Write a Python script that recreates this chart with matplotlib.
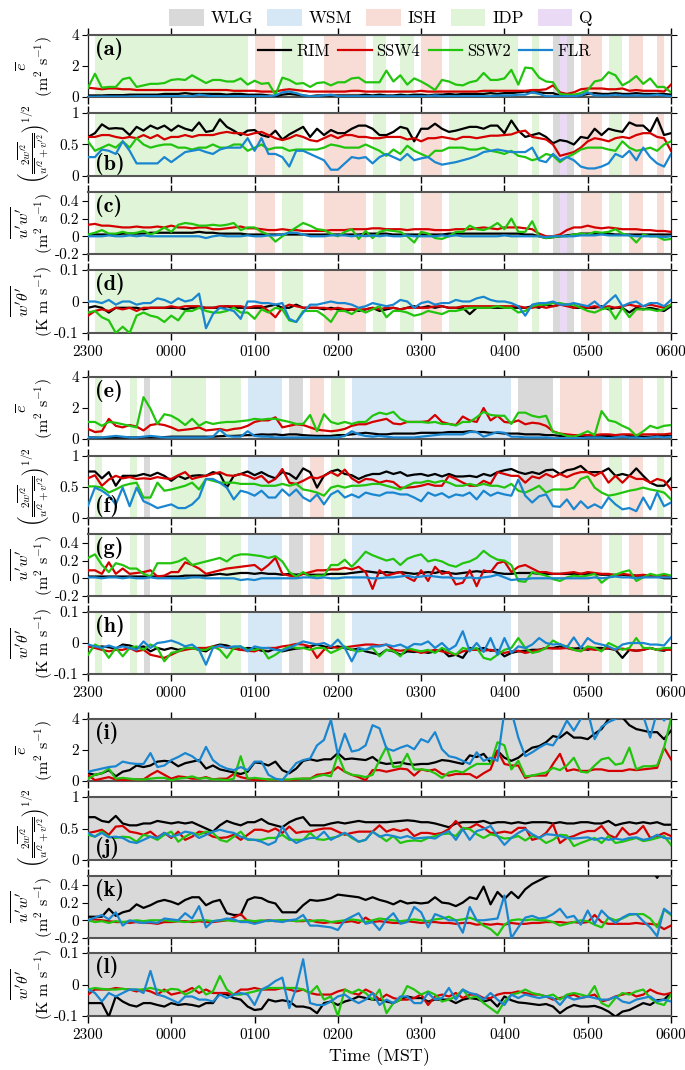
import os
import numpy as np
import matplotlib
matplotlib.use("Agg")
import matplotlib.pyplot as plt
import matplotlib.patches as mpatches
from matplotlib.font_manager import FontProperties

plt.rcParams.update({
    'font.family': 'serif', 'font.serif': ['cmr10'],
    'mathtext.fontset': 'cm', 'axes.formatter.use_mathtext': True,
    'axes.unicode_minus': False,
})

# ---------------- data ----------------
xtick_labels = ['2300', '0000', '0100', '0200', '0300', '0400', '0500', '0600']
series_names = ['RIM', 'SSW4', 'SSW2', 'FLR']
series_colors = ['#000000', '#d40000', '#22c40e', '#1a86d0']

# shading intervals (minutes after 2300)
g1_IDP = [(5, 115), (140, 155), (205, 215), (225, 235), (260, 310), (320, 325), (375, 385)]
g1_ISH = [(120, 135), (170, 200), (240, 255), (355, 370), (390, 400), (410, 415)]
g1_WLG = [(335, 340), (345, 350)]
g1_Q = [(340, 345)]
g1_WSM = []
g2_IDP = [(5, 10), (30, 35), (60, 85), (95, 110), (175, 185), (375, 385), (410, 415)]
g2_ISH = [(160, 170), (340, 370), (390, 400)]
g2_WLG = [(40, 45), (145, 155), (310, 335)]
g2_WSM = [(115, 140), (190, 305)]
g2_Q = []
g3_WLG = [(0, 420)]

a_RIM = [0.1,0.1,0.1,0.12,0.12,0.12,0.15,0.15,0.15,0.15,0.15,0.2,
 0.2,0.2,0.25,0.2,0.2,0.2,0.2,0.2,0.15,0.2,0.2,0.15,
 0.15,0.15,0.1,0.05,0.15,0.2,0.15,0.1,0.05,0.1,0.1,0.1,
 0.1,0.1,0.1,0.1,0.15,0.1,0.15,0.1,0.1,0.15,0.1,0.15,
 0.15,0.1,0.15,0.15,0.2,0.15,0.2,0.2,0.2,0.2,0.25,0.2,
 0.25,0.25,0.3,0.35,0.3,0.3,0.25,0.25,0.1,0.05,0.05,0.1,
 0.2,0.25,0.2,0.2,0.25,0.2,0.2,0.25,0.2,0.2,0.2,0.2,0.15]
a_SSW4 = [0.6,0.55,0.5,0.55,0.55,0.5,0.5,0.45,0.45,0.45,0.45,0.45,
 0.45,0.45,0.45,0.45,0.45,0.45,0.45,0.45,0.45,0.4,0.4,0.4,
 0.4,0.35,0.35,0.35,0.45,0.5,0.45,0.4,0.35,0.35,0.35,0.35,
 0.35,0.35,0.4,0.4,0.35,0.35,0.35,0.35,0.35,0.35,0.35,0.35,
 0.4,0.35,0.35,0.35,0.35,0.35,0.35,0.35,0.35,0.4,0.4,0.4,
 0.4,0.4,0.4,0.4,0.45,0.45,0.5,0.75,0.3,0.2,0.3,0.5,
 0.55,0.55,0.55,0.5,0.5,0.55,0.4,0.45,0.4,0.4,0.4,0.35,0.8]
a_SSW2 = [0.6,1.5,0.6,0.65,0.65,1.15,1.25,0.65,0.75,0.85,0.85,0.9,
 1.1,1.15,1.1,1.4,1.15,0.9,1.1,1.1,1.0,1.0,1.2,0.8,
 1.05,0.85,0.9,0.15,1.25,1.1,0.85,0.9,0.65,0.9,0.95,0.75,
 0.95,0.95,1.2,1.25,0.95,0.95,0.95,1.7,1.0,1.4,0.8,1.2,
 1.0,0.75,0.45,1.1,1.0,0.8,0.75,0.95,1.05,1.55,1.1,1.1,
 1.2,1.75,0.8,1.9,1.85,1.25,1.0,0.95,0.2,0.15,0.15,0.25,
 0.45,1.0,1.1,1.6,1.4,0.75,1.0,1.35,0.85,1.2,0.65,0.65,0.3]
a_FLR = [0.02,0.02,0.03,0.03,0.03,0.03,0.03,0.05,0.05,0.05,0.05,0.05,
 0.05,0.05,0.05,0.05,0.15,0.1,0.05,0.05,0.05,0.05,0.05,0.05,
 0.05,0.05,0.05,0.1,0.3,0.35,0.25,0.1,0.05,0.05,0.1,0.15,
 0.05,0.05,0.05,0.05,0.05,0.05,0.05,0.05,0.05,0.05,0.05,0.05,
 0.05,0.05,0.1,0.05,0.05,0.05,0.05,0.05,0.05,0.05,0.05,0.1,
 0.1,0.1,0.15,0.15,0.3,0.2,0.05,0.05,0.05,0.05,0.05,0.1,
 0.3,0.1,0.1,0.1,0.15,0.1,0.1,0.1,0.1,0.1,0.15,0.1,0.05]

b_RIM = [0.62,0.68,0.82,0.75,0.76,0.75,0.65,0.78,0.72,0.8,0.75,0.8,
 0.72,0.8,0.75,0.72,0.85,0.7,0.72,0.9,0.78,0.72,0.65,0.72,
 0.73,0.65,0.62,0.72,0.58,0.66,0.72,0.78,0.62,0.75,0.65,0.73,
 0.68,0.68,0.75,0.8,0.8,0.75,0.65,0.65,0.7,0.78,0.75,0.55,
 0.75,0.75,0.83,0.75,0.7,0.72,0.75,0.78,0.78,0.75,0.8,0.8,
 0.68,0.88,0.72,0.62,0.65,0.68,0.62,0.52,0.57,0.55,0.5,0.62,
 0.6,0.75,0.65,0.75,0.72,0.7,0.85,0.8,0.8,0.7,0.92,0.65,0.68]
b_SSW4 = [0.62,0.62,0.65,0.65,0.62,0.6,0.62,0.6,0.65,0.6,0.65,0.58,
 0.62,0.62,0.65,0.62,0.65,0.65,0.65,0.68,0.7,0.68,0.68,0.65,
 0.68,0.7,0.65,0.6,0.57,0.6,0.65,0.62,0.57,0.55,0.6,0.65,
 0.6,0.65,0.65,0.62,0.62,0.6,0.6,0.62,0.62,0.62,0.58,0.6,
 0.55,0.6,0.6,0.62,0.6,0.58,0.62,0.62,0.6,0.62,0.64,0.64,
 0.65,0.66,0.7,0.72,0.62,0.6,0.58,0.5,0.32,0.35,0.38,0.45,
 0.55,0.6,0.58,0.55,0.6,0.62,0.6,0.65,0.68,0.68,0.62,0.6,0.4]
b_SSW2 = [0.55,0.4,0.45,0.5,0.45,0.55,0.45,0.6,0.5,0.45,0.48,0.5,
 0.5,0.45,0.45,0.42,0.45,0.45,0.5,0.45,0.45,0.5,0.5,0.4,
 0.45,0.5,0.42,0.45,0.45,0.4,0.42,0.42,0.42,0.42,0.45,0.5,
 0.48,0.45,0.45,0.45,0.5,0.45,0.4,0.32,0.42,0.35,0.48,0.4,
 0.35,0.3,0.4,0.4,0.45,0.45,0.45,0.42,0.42,0.45,0.4,0.38,
 0.35,0.4,0.32,0.3,0.25,0.28,0.35,0.32,0.22,0.3,0.35,0.42,
 0.45,0.45,0.45,0.42,0.4,0.55,0.45,0.4,0.42,0.45,0.4,0.5,0.55]
b_FLR = [0.3,0.3,0.42,0.4,0.35,0.55,0.4,0.2,0.2,0.2,0.2,0.3,
 0.22,0.3,0.38,0.4,0.42,0.38,0.35,0.42,0.45,0.45,0.45,0.6,
 0.4,0.6,0.35,0.35,0.3,0.15,0.4,0.4,0.35,0.3,0.25,0.1,
 0.1,0.2,0.3,0.28,0.3,0.2,0.3,0.35,0.3,0.25,0.35,0.25,
 0.28,0.3,0.22,0.18,0.2,0.22,0.25,0.28,0.32,0.38,0.4,0.42,
 0.4,0.38,0.38,0.38,0.45,0.25,0.22,0.35,0.25,0.3,0.25,0.15,
 0.12,0.12,0.15,0.2,0.35,0.3,0.4,0.25,0.45,0.3,0.2,0.15,0.35]

c_RIM = [0.02,0.02,0.02,0.02,0.02,0.03,0.03,0.03,0.03,0.04,0.04,0.04,
 0.04,0.04,0.04,0.04,0.05,0.04,0.04,0.03,0.03,0.03,0.03,0.02,
 0.02,0.02,0.02,0.02,0.02,0.02,0.02,0.02,0.02,0.02,0.02,0.02,
 0.02,0.02,0.02,0.02,0.03,0.03,0.03,0.03,0.02,0.02,0.02,0.02,
 0.02,0.02,0.02,0.02,0.03,0.03,0.03,0.03,0.03,0.03,0.03,0.03,
 0.03,0.03,0.03,0.02,0.02,0.0,-0.02,-0.01,0.0,0.01,0.02,0.03,
 0.03,0.03,0.03,0.03,0.02,0.02,0.02,0.02,0.02,0.02,0.02,0.02,0.02]
c_SSW4 = [0.13,0.14,0.12,0.12,0.11,0.1,0.1,0.11,0.1,0.1,0.11,0.1,
 0.12,0.1,0.1,0.09,0.1,0.1,0.08,0.08,0.09,0.1,0.11,0.09,
 0.09,0.08,0.07,0.07,0.08,0.07,0.07,0.06,0.06,0.06,0.06,0.07,
 0.07,0.07,0.08,0.08,0.08,0.09,0.09,0.08,0.08,0.08,0.07,0.08,
 0.08,0.08,0.07,0.07,0.07,0.08,0.08,0.08,0.09,0.1,0.09,0.08,
 0.1,0.1,0.1,0.09,0.08,0.03,0.0,0.0,0.02,0.07,0.1,0.1,
 0.12,0.1,0.09,0.1,0.09,0.08,0.08,0.08,0.07,0.07,0.06,0.06,0.05]
c_SSW2 = [0.02,0.04,0.07,0.03,0.03,0.05,0.03,0.04,0.06,0.02,0.05,0.1,
 0.05,0.13,0.15,0.14,0.12,0.12,0.13,0.12,0.13,0.15,0.07,0.1,
 0.1,0.05,0.02,-0.06,0.0,0.05,0.1,0.15,0.12,0.08,0.07,0.03,
 0.0,0.05,0.08,-0.03,0.06,-0.02,0.05,0.07,0.06,0.05,0.0,-0.07,
 0.05,0.03,-0.02,-0.03,0.0,0.05,0.05,0.12,0.08,0.07,0.1,0.15,
 0.08,0.2,0.05,0.05,0.17,0.0,-0.02,-0.01,0.0,0.0,0.02,0.03,
 0.02,0.05,0.04,0.05,0.08,0.03,0.01,-0.07,0.02,0.0,0.0,-0.04,-0.03]
c_FLR = [0.0,0.0,0.0,0.01,0.0,0.0,0.01,0.0,0.01,0.0,0.0,0.0,
 0.0,0.0,0.0,0.0,0.0,-0.02,0.0,0.01,0.0,0.0,0.0,0.01,
 0.0,0.0,0.01,0.01,0.02,0.04,0.04,0.02,0.0,0.0,0.0,0.01,
 0.01,0.01,0.0,0.01,0.0,0.01,0.0,0.01,0.0,0.0,0.01,0.0,
 0.0,0.0,0.0,0.01,0.0,0.01,0.0,0.0,0.0,0.0,0.0,0.0,
 0.01,0.0,0.0,0.0,0.0,0.0,-0.01,0.0,0.0,0.0,0.0,0.01,
 0.01,0.01,0.02,0.01,0.01,0.01,0.01,0.0,0.0,0.0,0.0,-0.01,0.0]

d_RIM = [-0.02,-0.015,-0.02,-0.035,-0.02,-0.02,-0.02,-0.02,-0.025,-0.02,-0.02,-0.02,
 -0.02,-0.02,-0.025,-0.02,-0.02,-0.02,-0.02,-0.02,-0.015,-0.02,-0.02,-0.02,
 -0.02,-0.02,-0.015,-0.01,-0.02,-0.02,-0.01,-0.02,-0.02,-0.02,-0.025,-0.02,
 -0.025,-0.03,-0.025,-0.03,-0.025,-0.02,-0.03,-0.025,-0.02,-0.025,-0.02,-0.015,
 -0.02,-0.015,-0.02,-0.015,-0.02,-0.02,-0.02,-0.04,-0.02,-0.02,-0.02,-0.02,
 -0.02,-0.02,-0.02,-0.02,-0.015,-0.02,-0.01,-0.015,-0.01,-0.01,-0.02,-0.02,
 -0.02,-0.02,-0.015,-0.025,-0.02,-0.02,-0.035,-0.02,-0.025,-0.02,-0.025,-0.03,-0.015]
d_SSW4 = [-0.045,-0.03,-0.025,-0.03,-0.02,-0.025,-0.02,-0.03,-0.02,-0.02,-0.02,-0.02,
 -0.015,-0.02,-0.015,-0.015,-0.015,-0.02,-0.02,-0.015,-0.015,-0.015,-0.015,-0.02,
 -0.015,-0.015,-0.03,-0.05,-0.02,-0.01,-0.015,-0.02,-0.02,-0.02,-0.02,-0.025,
 -0.02,-0.025,-0.025,-0.025,-0.025,-0.02,-0.025,-0.02,-0.02,-0.025,-0.02,-0.02,
 -0.02,-0.02,-0.015,-0.015,-0.02,-0.02,-0.015,-0.015,-0.015,-0.015,-0.015,-0.015,
 -0.015,-0.015,-0.015,-0.02,-0.02,-0.015,-0.02,-0.015,-0.01,-0.015,-0.02,-0.015,
 -0.02,-0.015,-0.02,-0.015,-0.02,-0.015,-0.01,-0.015,-0.015,-0.01,-0.015,-0.02,-0.01]
d_SSW2 = [-0.035,-0.03,-0.05,-0.06,-0.1,-0.08,-0.1,-0.045,-0.035,-0.045,-0.05,-0.065,
 -0.045,-0.06,-0.03,-0.03,-0.02,-0.03,-0.035,-0.035,-0.03,-0.02,-0.035,-0.035,
 -0.055,-0.025,-0.035,-0.02,-0.025,-0.06,-0.065,-0.03,-0.03,-0.03,-0.045,-0.065,
 -0.03,-0.03,-0.04,-0.025,-0.035,-0.025,-0.015,-0.05,-0.03,-0.03,-0.035,-0.045,
 -0.04,-0.03,-0.035,-0.04,-0.03,-0.03,-0.025,-0.02,-0.02,-0.02,-0.02,-0.015,
 -0.02,-0.02,-0.035,-0.03,-0.015,-0.01,-0.01,-0.005,-0.005,-0.01,-0.01,-0.02,
 -0.03,-0.035,-0.025,-0.02,-0.055,-0.02,-0.05,-0.025,-0.025,-0.025,-0.03,-0.025,-0.01]
d_FLR = [0.0,0.0,-0.005,0.005,-0.01,0.0,0.0,-0.01,-0.005,-0.005,0.01,0.005,
 -0.005,0.01,0.0,0.005,0.025,-0.085,-0.04,-0.02,-0.025,-0.03,-0.055,0.0,
 0.0,-0.005,-0.005,-0.01,-0.005,-0.055,-0.065,-0.035,-0.01,-0.01,-0.005,0.0,
 -0.005,-0.005,-0.01,-0.02,-0.015,-0.005,-0.01,-0.015,-0.01,0.005,0.0,-0.02,
 -0.005,0.0,-0.01,-0.005,-0.005,0.005,0.0,0.0,0.01,0.015,0.005,0.0,
 0.0,-0.005,-0.015,-0.045,-0.01,-0.005,-0.005,0.0,-0.01,-0.01,-0.005,-0.01,
 -0.015,0.0,-0.02,0.0,0.02,-0.015,-0.005,0.0,-0.015,-0.005,-0.005,-0.015,0.005]

e_RIM = [0.1,0.1,0.08,0.1,0.1,0.1,0.1,0.1,0.12,0.12,0.12,0.12,
 0.15,0.15,0.15,0.15,0.15,0.15,0.15,0.18,0.2,0.2,0.22,0.25,
 0.25,0.3,0.28,0.3,0.25,0.3,0.3,0.25,0.22,0.2,0.2,0.2,
 0.25,0.25,0.3,0.35,0.4,0.35,0.3,0.3,0.35,0.35,0.35,0.35,
 0.4,0.4,0.4,0.4,0.45,0.45,0.45,0.5,0.45,0.45,0.4,0.4,
 0.35,0.35,0.35,0.3,0.3,0.3,0.25,0.25,0.2,0.2,0.2,0.2,
 0.2,0.2,0.2,0.2,0.15,0.15,0.2,0.2,0.15,0.15,0.2,0.2,0.2]
e_SSW4 = [0.65,0.45,0.5,1.3,0.85,0.75,0.9,0.8,0.55,0.9,0.97,0.9,
 0.75,0.55,0.6,0.65,0.75,0.55,0.6,0.65,0.55,0.65,0.7,0.85,
 1.1,1.2,1.2,1.4,0.75,0.85,0.95,0.9,0.75,0.6,0.55,0.5,
 0.55,0.65,0.85,0.95,0.95,1.1,1.2,1.3,1.0,0.95,1.1,1.1,
 1.1,1.15,1.55,1.1,0.97,0.9,1.45,1.2,1.1,2.0,1.2,1.5,
 1.1,1.05,1.2,0.95,1.05,1.0,0.85,0.5,0.35,0.3,0.25,0.25,
 0.25,0.25,0.3,0.3,0.25,0.3,0.3,0.25,0.3,0.3,0.3,0.3,0.35]
e_SSW2 = [1.1,1.1,0.85,1.1,1.05,0.95,0.85,0.75,2.7,1.95,0.97,1.6,
 1.5,1.25,0.9,1.3,0.85,1.1,0.97,1.05,1.1,1.1,1.15,1.2,
 1.3,1.25,1.3,1.3,1.2,1.1,0.97,0.97,1.55,0.5,1.6,1.1,
 0.97,1.1,0.97,1.1,1.1,1.5,1.7,1.6,1.75,1.3,1.1,1.1,
 1.1,1.05,1.1,0.97,0.97,0.87,1.1,1.1,1.4,1.75,1.55,1.5,
 1.5,0.97,1.7,1.7,1.5,1.4,1.5,0.45,0.35,0.2,0.15,0.3,
 0.5,0.25,1.8,1.2,1.1,0.85,0.65,0.2,0.5,0.85,0.7,0.85,0.9]
e_FLR = [0.1,0.1,0.1,0.15,0.2,0.15,0.1,0.1,0.15,0.2,0.15,0.1,
 0.1,0.1,0.1,0.1,0.1,0.1,0.15,0.6,0.2,0.15,0.15,0.5,
 0.2,0.15,0.15,0.1,0.1,0.1,0.1,0.1,0.1,0.1,0.1,0.1,
 0.1,0.2,0.5,0.3,0.2,0.15,0.2,0.15,0.1,0.1,0.1,0.1,
 0.15,0.2,0.25,0.3,0.3,0.3,0.3,0.45,0.45,0.15,0.3,0.45,
 0.4,0.15,0.15,0.1,0.1,0.1,0.1,0.05,0.05,0.05,0.05,0.05,
 0.1,0.1,0.1,0.05,0.1,0.15,0.1,0.1,0.05,0.1,0.15,0.1,0.15]

f_RIM = [0.75,0.75,0.64,0.74,0.52,0.68,0.68,0.68,0.71,0.68,0.73,0.68,
 0.6,0.68,0.63,0.68,0.69,0.68,0.74,0.71,0.49,0.68,0.71,0.75,
 0.69,0.74,0.68,0.64,0.74,0.71,0.63,0.8,0.74,0.49,0.68,0.75,
 0.78,0.71,0.69,0.63,0.68,0.71,0.71,0.75,0.71,0.74,0.68,0.7,
 0.71,0.68,0.71,0.67,0.71,0.67,0.67,0.68,0.66,0.71,0.68,0.74,
 0.77,0.79,0.74,0.71,0.74,0.71,0.77,0.78,0.71,0.77,0.79,0.84,
 0.74,0.74,0.74,0.8,0.68,0.71,0.68,0.8,0.68,0.57,0.52,0.52,0.64]
f_SSW4 = [0.64,0.69,0.52,0.62,0.68,0.64,0.66,0.63,0.64,0.63,0.66,0.64,
 0.63,0.69,0.74,0.63,0.66,0.68,0.71,0.74,0.69,0.68,0.71,0.68,
 0.63,0.68,0.57,0.63,0.79,0.57,0.55,0.6,0.66,0.64,0.68,0.74,
 0.68,0.78,0.64,0.57,0.63,0.62,0.57,0.6,0.58,0.49,0.49,0.5,
 0.52,0.55,0.52,0.52,0.68,0.63,0.57,0.52,0.52,0.6,0.55,0.74,
 0.71,0.68,0.68,0.57,0.67,0.64,0.71,0.66,0.71,0.66,0.71,0.74,
 0.74,0.68,0.74,0.57,0.68,0.57,0.68,0.63,0.63,0.57,0.63,0.6,0.46]
f_SSW2 = [0.51,0.51,0.49,0.41,0.46,0.52,0.55,0.57,0.33,0.33,0.57,0.44,
 0.46,0.49,0.52,0.57,0.46,0.63,0.6,0.57,0.57,0.57,0.55,0.55,
 0.55,0.52,0.52,0.52,0.55,0.52,0.55,0.46,0.44,0.41,0.36,0.49,
 0.52,0.49,0.52,0.52,0.53,0.55,0.55,0.52,0.49,0.46,0.52,0.57,
 0.57,0.6,0.57,0.6,0.57,0.52,0.52,0.55,0.52,0.55,0.52,0.52,
 0.49,0.55,0.44,0.41,0.46,0.52,0.41,0.46,0.46,0.46,0.49,0.63,
 0.67,0.49,0.41,0.36,0.38,0.41,0.44,0.46,0.49,0.46,0.44,0.41,0.3]
f_FLR = [0.2,0.49,0.44,0.36,0.22,0.49,0.19,0.49,0.27,0.22,0.16,0.19,
 0.22,0.16,0.16,0.22,0.33,0.63,0.63,0.57,0.49,0.3,0.44,0.41,
 0.36,0.44,0.33,0.33,0.46,0.36,0.46,0.33,0.27,0.38,0.22,0.38,
 0.44,0.33,0.38,0.33,0.41,0.38,0.36,0.41,0.41,0.38,0.38,0.33,
 0.27,0.41,0.36,0.4,0.33,0.38,0.36,0.41,0.3,0.44,0.36,0.41,
 0.38,0.36,0.62,0.36,0.25,0.35,0.38,0.19,0.18,0.3,0.14,0.27,
 0.16,0.22,0.16,0.33,0.22,0.14,0.16,0.11,0.33,0.14,0.41,0.19,0.25]

g_RIM = [0.02,0.02,0.02,0.02,0.02,0.02,0.02,0.02,0.02,0.02,0.02,0.02,
 0.02,0.02,0.03,0.03,0.03,0.03,0.04,0.05,0.04,0.05,0.06,0.06,
 0.05,0.06,0.05,0.05,0.04,0.05,0.04,0.05,0.04,0.04,0.04,0.05,
 0.05,0.05,0.06,0.07,0.08,0.07,0.06,0.07,0.06,0.07,0.06,0.05,
 0.06,0.07,0.06,0.08,0.06,0.05,0.06,0.07,0.08,0.07,0.08,0.06,
 0.05,0.05,0.06,0.06,0.06,0.05,0.05,0.05,0.05,0.05,0.05,0.05,
 0.05,0.05,0.04,0.04,0.04,0.04,0.03,0.03,0.03,0.03,0.02,0.0,0.0]
g_SSW4 = [0.09,0.09,0.05,0.18,0.05,0.11,0.05,0.06,0.07,0.09,0.02,0.03,
 0.07,0.07,0.18,0.15,0.11,0.05,0.07,0.09,0.11,0.12,0.13,0.14,
 0.15,0.09,0.15,0.23,0.05,0.03,0.02,0.05,0.07,0.09,0.09,0.1,
 0.1,0.12,0.1,0.13,0.07,-0.12,0.09,0.03,0.05,0.07,0.01,-0.03,
 0.09,-0.03,0.13,0.05,0.07,-0.07,-0.05,0.09,-0.09,0.09,0.07,0.17,
 0.19,0.07,0.13,0.15,0.11,0.07,0.07,0.05,0.05,0.06,0.07,0.05,
 0.07,0.06,0.05,0.05,0.03,0.05,0.04,0.03,0.04,0.03,0.02,0.03,0.02]
g_SSW2 = [0.23,0.27,0.15,0.07,0.17,0.15,0.11,0.11,0.05,0.02,0.17,0.17,
 0.17,0.19,0.23,0.15,0.17,0.19,0.21,0.23,0.19,0.25,0.27,0.27,
 0.26,0.25,0.23,0.25,0.19,0.07,0.02,0.07,0.02,0.03,0.03,0.15,
 0.15,0.21,0.13,0.21,0.3,0.26,0.23,0.2,0.22,0.15,0.22,0.25,
 0.27,0.19,0.21,0.19,0.15,0.13,0.17,0.19,0.23,0.31,0.25,0.21,
 0.2,0.15,-0.03,-0.04,0.07,0.05,0.03,-0.01,-0.03,0.01,0.03,0.02,
 0.03,0.05,-0.05,0.01,0.04,0.07,0.09,-0.03,0.01,0.05,0.03,0.05,0.03]
g_FLR = [0.01,0.01,0.0,0.01,0.01,0.0,0.01,0.0,0.0,0.01,0.0,0.0,
 0.0,0.0,0.0,0.01,0.01,0.0,0.0,0.0,0.0,0.0,-0.02,-0.01,
 -0.02,0.0,0.0,0.0,0.0,0.0,0.0,0.01,0.01,0.0,0.01,0.0,
 0.0,0.01,0.01,0.01,0.01,0.0,0.0,0.01,0.01,0.02,0.03,0.01,
 0.02,0.03,0.02,0.01,0.01,0.0,0.0,0.01,0.0,0.01,0.02,0.04,
 0.01,-0.02,-0.01,-0.01,0.0,0.0,0.0,0.0,0.0,0.0,0.0,0.0,
 0.0,0.01,0.0,0.01,0.02,0.01,0.01,0.0,0.01,0.01,0.01,0.01,0.01]

h_RIM = [-0.005,-0.016,-0.011,-0.014,-0.018,-0.005,-0.008,-0.016,-0.011,-0.027,-0.016,-0.022,
 -0.016,-0.022,-0.018,-0.016,-0.022,-0.027,-0.011,-0.005,-0.008,-0.016,-0.022,-0.016,
 -0.018,-0.025,-0.027,-0.018,-0.027,-0.022,-0.018,-0.016,-0.011,-0.005,-0.011,-0.016,
 -0.011,-0.016,-0.022,-0.018,-0.027,-0.032,-0.038,-0.022,-0.027,-0.038,-0.027,-0.029,
 -0.027,-0.032,-0.027,-0.022,-0.043,-0.038,-0.048,-0.016,-0.022,-0.016,-0.025,-0.022,
 -0.043,-0.032,-0.027,-0.025,-0.022,-0.022,-0.016,-0.016,-0.011,-0.016,-0.018,-0.016,
 -0.022,-0.016,-0.016,-0.018,-0.022,-0.048,-0.022,-0.025,-0.022,-0.016,-0.022,-0.025,-0.016]
h_SSW4 = [-0.011,-0.016,-0.022,-0.027,-0.022,-0.022,-0.016,-0.027,-0.022,-0.038,-0.043,-0.048,
 -0.038,-0.027,-0.022,-0.018,-0.016,-0.016,-0.011,-0.011,-0.014,-0.018,-0.022,-0.025,
 -0.027,-0.018,-0.016,-0.016,-0.011,-0.008,-0.003,-0.005,-0.011,-0.048,-0.022,-0.011,
 -0.016,-0.014,-0.011,-0.008,-0.005,-0.005,-0.008,-0.005,-0.022,-0.025,-0.022,-0.025,
 -0.032,-0.027,-0.022,-0.027,-0.032,-0.038,-0.027,-0.022,-0.022,-0.025,-0.022,-0.027,
 -0.032,-0.027,-0.025,-0.032,-0.027,-0.022,-0.016,-0.018,-0.018,-0.016,-0.022,-0.025,
 -0.018,-0.022,-0.022,-0.016,-0.022,-0.018,-0.022,-0.025,-0.022,-0.016,-0.022,-0.022,-0.022]
h_SSW2 = [-0.038,-0.005,-0.016,-0.048,-0.016,-0.043,-0.016,-0.011,-0.022,-0.005,-0.016,-0.059,
 -0.032,-0.027,-0.016,-0.016,-0.022,-0.022,-0.011,-0.022,-0.048,-0.016,-0.011,-0.022,
 -0.022,-0.016,-0.05,-0.038,-0.022,-0.011,-0.016,-0.016,-0.022,-0.016,-0.016,-0.032,
 -0.022,-0.011,-0.022,-0.027,-0.022,-0.016,-0.043,-0.022,-0.025,-0.043,-0.016,-0.022,
 -0.027,-0.022,-0.032,-0.016,-0.027,-0.038,-0.016,-0.022,-0.016,-0.048,-0.054,-0.038,
 -0.022,-0.016,0.016,-0.016,-0.032,-0.027,-0.016,0.008,-0.005,-0.011,-0.022,-0.027,
 -0.011,-0.016,-0.027,0.0,-0.011,-0.022,-0.016,0.016,-0.016,-0.016,-0.022,-0.016,-0.016]
h_FLR = [-0.005,-0.011,-0.016,-0.008,-0.016,-0.011,-0.016,-0.022,0.005,-0.016,0.0,0.003,
 0.008,0.0,-0.011,-0.005,-0.022,-0.07,-0.016,-0.008,-0.016,-0.011,-0.011,-0.027,
 -0.011,-0.016,-0.016,-0.022,-0.025,-0.016,-0.005,0.005,0.0,-0.005,0.0,-0.011,
 0.011,-0.016,-0.059,-0.016,-0.022,-0.011,-0.011,-0.005,-0.011,-0.005,-0.016,-0.003,
 -0.005,0.005,-0.016,0.0,-0.022,-0.008,0.038,-0.027,0.0,-0.029,0.016,-0.038,
 0.016,-0.032,-0.011,-0.016,-0.005,0.016,0.0,-0.005,-0.003,-0.014,0.018,-0.016,
 0.016,0.0,-0.005,-0.011,-0.022,-0.005,0.0,0.0,0.0,-0.005,-0.005,-0.008,0.018]

i_RIM = [0.5,0.4,0.5,0.7,0.3,0.6,0.7,1.0,0.9,1.0,1.25,1.3,
 1.25,0.95,1.15,1.25,1.35,0.8,1.0,0.75,0.65,0.55,0.45,0.6,
 1.2,1.15,1.0,1.25,0.7,0.5,0.8,1.3,1.4,1.3,1.4,1.4,
 1.8,1.4,1.45,1.4,1.35,1.55,1.2,1.1,1.15,1.2,1.1,1.05,
 1.1,1.1,1.2,1.35,1.3,1.2,1.1,1.65,1.55,1.75,1.2,1.95,
 1.5,1.3,1.5,1.85,2.15,2.25,2.5,2.9,2.8,3.15,2.8,2.8,
 2.7,3.05,3.35,4.0,4.3,4.1,3.6,3.35,3.25,3.15,3.15,2.7,3.25]
i_SSW4 = [0.4,0.05,0.15,0.25,0.1,0.05,0.1,0.1,0.1,0.4,0.65,0.4,
 0.15,0.3,0.25,0.15,0.15,0.25,0.1,0.15,0.15,0.45,0.25,0.15,
 0.05,0.05,0.1,0.05,0.05,0.05,0.1,0.15,0.15,0.4,0.45,0.55,
 0.9,0.6,0.4,0.25,0.05,0.7,0.7,0.6,0.7,0.8,0.75,0.35,
 0.75,0.65,0.75,0.45,0.35,0.45,0.45,0.45,0.2,0.5,0.75,1.95,
 1.1,1.0,1.0,0.2,0.35,0.35,0.35,1.1,1.75,0.65,0.75,0.65,
 0.65,0.75,0.75,0.65,0.65,0.65,0.75,0.7,0.75,0.8,0.85,2.15,1.4]
i_SSW2 = [0.15,0.4,0.5,0.8,0.15,0.2,0.15,0.1,0.1,0.15,0.2,0.2,
 0.05,0.15,0.2,0.3,0.15,0.2,0.1,0.1,0.05,0.15,1.6,0.15,
 0.2,0.15,0.1,0.1,0.1,0.1,0.15,0.15,0.15,0.3,0.4,0.3,
 1.7,0.6,0.4,0.35,0.25,0.4,1.35,2.2,0.9,0.95,1.75,0.75,
 0.75,0.7,0.5,0.2,0.55,0.65,0.55,0.85,1.1,1.1,1.1,2.5,
 2.3,0.75,1.3,0.3,0.35,0.45,0.55,0.85,0.7,1.0,1.5,0.6,
 0.55,1.0,1.4,1.5,1.05,1.15,2.15,0.75,0.95,0.95,1.0,2.15,4.0]
i_FLR = [0.6,0.7,0.8,0.9,0.95,1.25,1.15,1.1,1.1,1.8,0.9,1.0,
 1.35,1.55,1.8,1.6,1.25,2.2,1.35,1.0,0.8,0.7,0.9,0.7,
 1.25,1.25,0.4,0.15,0.05,0.6,1.15,1.35,1.45,2.3,2.65,3.95,
 1.7,3.05,1.9,2.0,2.3,3.6,3.4,2.1,1.95,2.15,2.3,2.05,
 2.7,2.5,3.15,2.05,1.6,1.5,1.3,1.1,1.85,1.3,1.5,1.3,
 4.5,4.5,2.8,1.6,1.85,2.15,2.4,2.3,3.0,3.9,3.25,4.0,
 4.5,2.7,3.5,3.8,4.0,4.5,4.6,4.5,4.2,2.8,4.5,3.9,4.5]

j_RIM = [0.68,0.68,0.62,0.6,0.7,0.58,0.55,0.55,0.58,0.58,0.62,0.6,
 0.58,0.6,0.58,0.6,0.55,0.5,0.45,0.55,0.62,0.58,0.55,0.6,
 0.6,0.65,0.58,0.55,0.52,0.6,0.65,0.68,0.55,0.55,0.55,0.58,
 0.6,0.58,0.6,0.62,0.6,0.6,0.6,0.6,0.61,0.62,0.63,0.62,
 0.6,0.6,0.58,0.55,0.52,0.58,0.6,0.6,0.6,0.62,0.58,0.6,
 0.6,0.58,0.6,0.58,0.6,0.6,0.6,0.58,0.6,0.58,0.58,0.6,
 0.6,0.58,0.58,0.62,0.55,0.58,0.6,0.58,0.6,0.58,0.6,0.56,0.56]
j_SSW4 = [0.43,0.45,0.48,0.4,0.53,0.54,0.45,0.43,0.4,0.45,0.36,0.43,
 0.35,0.45,0.32,0.37,0.45,0.43,0.37,0.35,0.36,0.4,0.32,0.4,
 0.48,0.48,0.45,0.5,0.43,0.53,0.43,0.45,0.45,0.48,0.5,0.5,
 0.45,0.4,0.43,0.45,0.45,0.45,0.55,0.45,0.49,0.46,0.49,0.38,
 0.43,0.43,0.41,0.43,0.49,0.62,0.49,0.51,0.57,0.51,0.43,0.43,
 0.45,0.43,0.51,0.51,0.32,0.35,0.43,0.57,0.27,0.35,0.38,0.43,
 0.46,0.46,0.54,0.4,0.35,0.51,0.4,0.43,0.54,0.35,0.38,0.43,0.38]
j_SSW2 = [0.4,0.37,0.45,0.37,0.35,0.37,0.36,0.29,0.4,0.37,0.32,0.4,
 0.45,0.29,0.37,0.43,0.4,0.45,0.43,0.32,0.29,0.37,0.45,0.32,
 0.32,0.32,0.35,0.35,0.4,0.32,0.32,0.32,0.43,0.33,0.32,0.35,
 0.37,0.43,0.35,0.29,0.32,0.45,0.38,0.3,0.38,0.27,0.3,0.31,
 0.3,0.35,0.38,0.41,0.42,0.38,0.51,0.49,0.41,0.35,0.41,0.38,
 0.34,0.35,0.38,0.31,0.38,0.35,0.27,0.32,0.4,0.39,0.22,0.27,
 0.31,0.35,0.27,0.38,0.27,0.29,0.32,0.35,0.3,0.32,0.35,0.38,0.24]
j_FLR = [0.43,0.37,0.43,0.36,0.37,0.35,0.29,0.27,0.32,0.37,0.35,0.43,
 0.37,0.4,0.45,0.43,0.35,0.4,0.45,0.48,0.45,0.43,0.37,0.33,
 0.32,0.29,0.24,0.29,0.53,0.35,0.27,0.32,0.35,0.35,0.45,0.32,
 0.38,0.43,0.37,0.29,0.32,0.45,0.37,0.4,0.38,0.35,0.38,0.34,
 0.35,0.36,0.34,0.41,0.46,0.32,0.49,0.32,0.46,0.49,0.54,0.38,
 0.24,0.35,0.43,0.49,0.41,0.35,0.41,0.4,0.38,0.35,0.34,0.35,
 0.36,0.32,0.35,0.32,0.34,0.32,0.35,0.36,0.32,0.34,0.4,0.35,0.34]

k_RIM = [0.04,0.04,0.04,0.13,0.05,0.09,0.11,0.18,0.14,0.17,0.21,0.23,
 0.21,0.18,0.23,0.26,0.26,0.17,0.21,0.23,0.08,0.06,0.06,0.23,
 0.26,0.25,0.21,0.19,0.09,0.09,0.09,0.17,0.23,0.22,0.23,0.25,
 0.29,0.28,0.27,0.26,0.23,0.26,0.23,0.21,0.18,0.22,0.19,0.2,
 0.19,0.2,0.26,0.2,0.19,0.16,0.2,0.26,0.24,0.38,0.18,0.32,
 0.24,0.32,0.25,0.35,0.41,0.45,0.49,0.52,0.56,0.6,0.65,0.7,
 0.75,0.8,0.85,0.9,0.95,1.0,0.9,0.8,0.7,0.6,0.48,0.6,0.7]
k_SSW4 = [0.0,0.01,0.0,-0.01,-0.02,-0.02,-0.03,-0.02,-0.03,-0.03,-0.04,-0.02,
 -0.02,-0.01,-0.01,-0.02,-0.01,-0.02,-0.02,-0.01,0.0,0.03,0.07,-0.01,
 -0.02,-0.01,0.0,-0.01,0.0,0.0,-0.01,-0.01,0.0,-0.02,-0.03,-0.02,
 -0.03,-0.02,-0.01,-0.03,0.03,-0.02,-0.01,-0.02,-0.03,-0.03,-0.01,-0.02,
 -0.03,-0.02,-0.02,-0.03,-0.03,-0.04,-0.03,-0.03,-0.05,-0.04,-0.05,-0.04,
 -0.05,-0.03,-0.04,-0.04,-0.03,-0.03,-0.02,-0.02,-0.02,-0.03,-0.02,-0.03,
 -0.02,0.06,-0.02,-0.04,-0.04,-0.04,-0.04,-0.03,-0.04,-0.04,-0.05,-0.1,-0.06]
k_SSW2 = [0.0,-0.02,-0.01,-0.03,-0.01,-0.02,-0.01,0.0,-0.01,0.0,0.0,0.0,
 -0.01,-0.01,-0.02,-0.01,0.0,0.0,-0.01,0.0,0.0,-0.01,-0.01,0.0,
 -0.01,0.0,-0.01,0.0,0.0,0.0,-0.01,0.0,-0.01,0.0,0.0,-0.02,
 -0.01,0.0,0.01,0.0,-0.02,0.0,0.02,0.01,0.0,-0.01,0.0,0.01,
 0.0,-0.01,0.01,0.02,0.04,0.0,0.01,0.03,0.0,-0.06,-0.1,-0.17,
 -0.05,0.0,0.01,0.0,0.01,0.0,0.0,-0.02,-0.06,-0.04,-0.02,0.0,
 -0.01,-0.05,-0.08,0.03,0.0,0.02,0.06,0.07,0.07,0.02,-0.08,0.12,0.06]
k_FLR = [0.0,0.03,0.06,0.01,0.09,-0.06,0.0,-0.02,-0.03,-0.02,-0.03,0.02,
 0.01,0.0,0.08,0.02,0.16,-0.08,-0.01,0.0,0.02,0.01,-0.02,-0.02,
 -0.04,-0.02,0.0,-0.01,-0.02,0.0,0.01,0.06,-0.06,-0.06,-0.07,-0.08,
 -0.11,0.0,0.04,0.08,-0.04,-0.02,-0.11,0.01,0.08,-0.04,-0.02,0.15,
 0.09,-0.08,0.07,0.04,0.0,0.0,-0.14,0.15,0.0,0.0,0.01,0.02,
 0.28,-0.2,-0.08,0.03,0.05,0.02,0.03,0.07,0.13,0.03,0.05,-0.05,
 0.11,-0.04,0.11,0.03,-0.03,0.03,0.07,0.07,-0.01,-0.08,-0.18,0.13,0.07]

l_RIM = [-0.059,-0.059,-0.059,-0.102,-0.038,-0.054,-0.065,-0.07,-0.059,-0.059,-0.065,-0.07,
 -0.059,-0.065,-0.062,-0.065,-0.07,-0.059,-0.059,-0.027,-0.032,-0.043,-0.048,-0.07,
 -0.081,-0.078,-0.048,-0.054,-0.05,-0.054,-0.07,-0.07,-0.075,-0.091,-0.059,-0.054,
 -0.065,-0.054,-0.048,-0.038,-0.043,-0.048,-0.048,-0.054,-0.059,-0.048,-0.038,-0.043,
 -0.043,-0.054,-0.048,-0.048,-0.048,-0.059,-0.048,-0.043,-0.046,-0.054,-0.048,-0.07,
 -0.038,-0.05,-0.057,-0.059,-0.062,-0.065,-0.062,-0.07,-0.091,-0.075,-0.065,-0.07,
 -0.07,-0.068,-0.075,-0.086,-0.102,-0.086,-0.081,-0.07,-0.059,-0.065,-0.05,-0.048,-0.027]
l_SSW4 = [-0.032,-0.016,-0.016,-0.016,-0.011,-0.014,-0.016,-0.022,-0.016,-0.022,-0.032,-0.016,
 -0.032,-0.027,-0.022,-0.011,-0.027,-0.016,-0.027,-0.027,-0.027,-0.032,-0.016,-0.016,
 -0.011,-0.016,-0.016,-0.016,-0.011,-0.016,-0.022,-0.016,-0.027,-0.032,-0.032,-0.032,
 -0.022,-0.016,-0.027,-0.032,-0.016,-0.027,-0.048,-0.032,-0.043,-0.048,-0.048,-0.043,
 -0.032,-0.065,-0.038,-0.032,-0.038,-0.027,-0.043,-0.032,-0.032,-0.043,-0.043,-0.032,
 -0.027,-0.027,-0.022,-0.027,-0.032,-0.032,-0.038,-0.048,-0.043,-0.038,-0.032,-0.043,
 -0.038,-0.032,-0.054,-0.048,-0.038,-0.032,-0.027,-0.038,-0.032,-0.016,-0.027,-0.032,-0.027]
l_SSW2 = [-0.016,-0.011,-0.014,-0.016,-0.016,-0.014,-0.016,-0.016,-0.016,-0.011,-0.016,-0.022,
 -0.014,-0.016,-0.032,-0.022,-0.005,-0.032,-0.022,0.027,-0.016,-0.032,-0.032,-0.027,
 -0.022,-0.016,-0.011,-0.011,-0.011,-0.011,-0.011,-0.016,-0.027,-0.005,-0.048,-0.038,
 -0.1,-0.016,-0.027,-0.016,-0.027,-0.048,-0.016,-0.091,-0.059,-0.048,-0.005,-0.016,
 -0.032,-0.022,-0.032,-0.054,-0.048,-0.038,-0.016,-0.043,-0.038,-0.059,-0.075,-0.091,
 -0.054,-0.032,-0.027,-0.016,-0.027,-0.032,-0.038,-0.032,-0.048,-0.032,-0.027,-0.032,
 -0.038,-0.005,-0.059,-0.07,-0.043,-0.027,-0.032,-0.022,-0.016,-0.043,-0.059,-0.065,-0.032]
l_FLR = [-0.016,-0.027,-0.054,-0.027,-0.038,-0.027,-0.016,-0.016,-0.027,0.043,-0.032,-0.038,
 -0.048,-0.059,-0.038,-0.038,-0.048,-0.048,-0.054,-0.032,-0.043,-0.032,-0.027,-0.032,
 -0.065,-0.016,-0.005,0.011,0.022,-0.075,-0.011,0.08,-0.059,-0.065,-0.065,-0.054,
 -0.038,-0.032,-0.048,-0.059,-0.048,-0.027,-0.065,-0.048,-0.059,-0.038,-0.038,-0.059,
 -0.059,-0.027,-0.048,-0.043,-0.011,-0.048,-0.016,-0.027,-0.032,-0.048,-0.027,-0.048,
 -0.065,-0.032,-0.043,-0.032,-0.038,-0.043,-0.038,-0.043,-0.065,-0.038,-0.048,-0.043,
 -0.038,-0.043,-0.048,-0.048,-0.038,-0.054,-0.059,-0.048,-0.043,-0.038,-0.054,-0.048,-0.054]

# ---------------- layout ----------------
W, H = 685, 1070
fig = plt.figure(figsize=(W / 100, H / 100), dpi=100)

panel_px = [(35, 97), (113, 176), (192, 254), (270, 333),
            (377, 439), (456, 518), (534, 596), (612, 674),
            (719, 781), (797, 860), (876, 938), (953, 1016)]
left_px, right_px = 88, 671
axw_px = right_px - left_px

panel_data = [
    (a_RIM, a_SSW4, a_SSW2, a_FLR), (b_RIM, b_SSW4, b_SSW2, b_FLR),
    (c_RIM, c_SSW4, c_SSW2, c_FLR), (d_RIM, d_SSW4, d_SSW2, d_FLR),
    (e_RIM, e_SSW4, e_SSW2, e_FLR), (f_RIM, f_SSW4, f_SSW2, f_FLR),
    (g_RIM, g_SSW4, g_SSW2, g_FLR), (h_RIM, h_SSW4, h_SSW2, h_FLR),
    (i_RIM, i_SSW4, i_SSW2, i_FLR), (j_RIM, j_SSW4, j_SSW2, j_FLR),
    (k_RIM, k_SSW4, k_SSW2, k_FLR), (l_RIM, l_SSW4, l_SSW2, l_FLR),
]
letters = 'abcdefghijkl'

shade_colors = {'WLG': '#d9d9d9', 'WSM': '#d6e8f6', 'ISH': '#f7ddd5',
                'IDP': '#e0f5d8', 'Q': '#eadaf6'}
groups = [
    {'WLG': g1_WLG, 'WSM': g1_WSM, 'ISH': g1_ISH, 'IDP': g1_IDP, 'Q': g1_Q},
    {'WLG': g2_WLG, 'WSM': g2_WSM, 'ISH': g2_ISH, 'IDP': g2_IDP, 'Q': g2_Q},
    {'WLG': g3_WLG},
]

# y-label pieces: (text, x position in px from figure left)
ylab_e = [(r'$\overline{e}$', 23), (r'(m$^2$ s$^{-1}$)', 44)]
ylab_r = [(r'$\left(\frac{2\overline{w^{\prime 2}}}{\overline{u^{\prime 2}}+\overline{v^{\prime 2}}}\right)^{1/2}$', 34)]
ylab_uw = [(r'$\overline{u^\prime w^\prime}$', 21), (r'(m$^2$ s$^{-1}$)', 44)]
ylab_wt = [(r'$\overline{w^\prime \theta^\prime}$', 21), (r'(K m s$^{-1}$)', 44)]

row_cfg = [
    dict(ylim=(0, 4), ticks=[0, 2, 4], labels=['0', '2', '4'], ylab=ylab_e),
    dict(ylim=(0, 1), ticks=[0, 0.5, 1], labels=['0', '0.5', '1'], ylab=ylab_r),
    dict(ylim=(-0.2, 0.5), ticks=[-0.2, 0, 0.2, 0.4], labels=['-0.2', '0', '0.2', '0.4'], ylab=ylab_uw),
    dict(ylim=(-0.1, 0.1), ticks=[-0.1, 0, 0.1], labels=['-0.1', '0', '0.1'], ylab=ylab_wt),
]

bold_fp = FontProperties(fname=os.path.join(matplotlib.get_data_path(), 'fonts', 'ttf', 'cmb10.ttf'), size=16)

axes = []
for p, (top, bot) in enumerate(panel_px):
    rect = [left_px / W, 1 - bot / H, axw_px / W, (bot - top) / H]
    ax = fig.add_axes(rect)
    axes.append(ax)
    grp = groups[p // 4]
    for name, spans in grp.items():
        for (x0, x1) in spans:
            ax.axvspan(x0, x1, color=shade_colors[name], lw=0, zorder=0)
    lines = []
    for vals, col, nm in zip(panel_data[p], series_colors, series_names):
        x = np.linspace(0, 420, len(vals))
        ln, = ax.plot(x, vals, color=col, lw=1.6, label=nm, zorder=3)
        lines.append(ln)
    cfg = row_cfg[p % 4]
    ax.set_xlim(0, 420)
    ax.set_ylim(*cfg['ylim'])
    ax.set_yticks(cfg['ticks'])
    ax.set_yticklabels(cfg['labels'])
    ax.set_xticks(np.arange(0, 421, 60))
    ax.set_xticklabels(xtick_labels)
    ax.tick_params(axis='x', top=True, bottom=True, direction='out', length=5,
                   width=1.0, labelsize=11, labelbottom=(p % 4 == 3))
    ax.tick_params(axis='y', left=True, right=True, direction='out', length=4,
                   width=0.8, labelsize=11, pad=2.5)
    for s in ['top', 'bottom']:
        ax.spines[s].set_color('#555555')
        ax.spines[s].set_linewidth(1.5)
    for s in ['left', 'right']:
        ax.spines[s].set_color('#222222')
        ax.spines[s].set_linewidth(0.9)
    for (t, xpx) in cfg['ylab']:
        ax.text((xpx - left_px) / axw_px, 0.5, t, transform=ax.transAxes,
                rotation=90, ha='center', va='center', fontsize=11.5)
    txt = '(%s)' % letters[p]
    if p % 4 == 1:
        ax.text(0.012, 0.02, txt, transform=ax.transAxes, fontproperties=bold_fp,
                va='bottom', ha='left', zorder=5)
    else:
        ax.text(0.012, 0.95, txt, transform=ax.transAxes, fontproperties=bold_fp,
                va='top', ha='left', zorder=5)
    if p == 0:
        ax.legend(handles=lines, loc='upper right', bbox_to_anchor=(0.88, 1.02),
                  ncol=4, frameon=False, fontsize=12, handlelength=2.0,
                  columnspacing=0.5, handletextpad=0.3, borderaxespad=0.2)

axes[-1].set_xlabel('Time (MST)', fontsize=13)

shade_handles = [mpatches.Patch(facecolor=shade_colors[n], edgecolor='none', label=n)
                 for n in ['WLG', 'WSM', 'ISH', 'IDP', 'Q']]
fig.legend(handles=shade_handles, loc='upper center', bbox_to_anchor=(0.556, 1.006),
           ncol=5, frameon=False, fontsize=12.5, handlelength=2.0, handleheight=1.1,
           columnspacing=0.8, handletextpad=0.4)

fig.savefig('out.png', dpi=100)
